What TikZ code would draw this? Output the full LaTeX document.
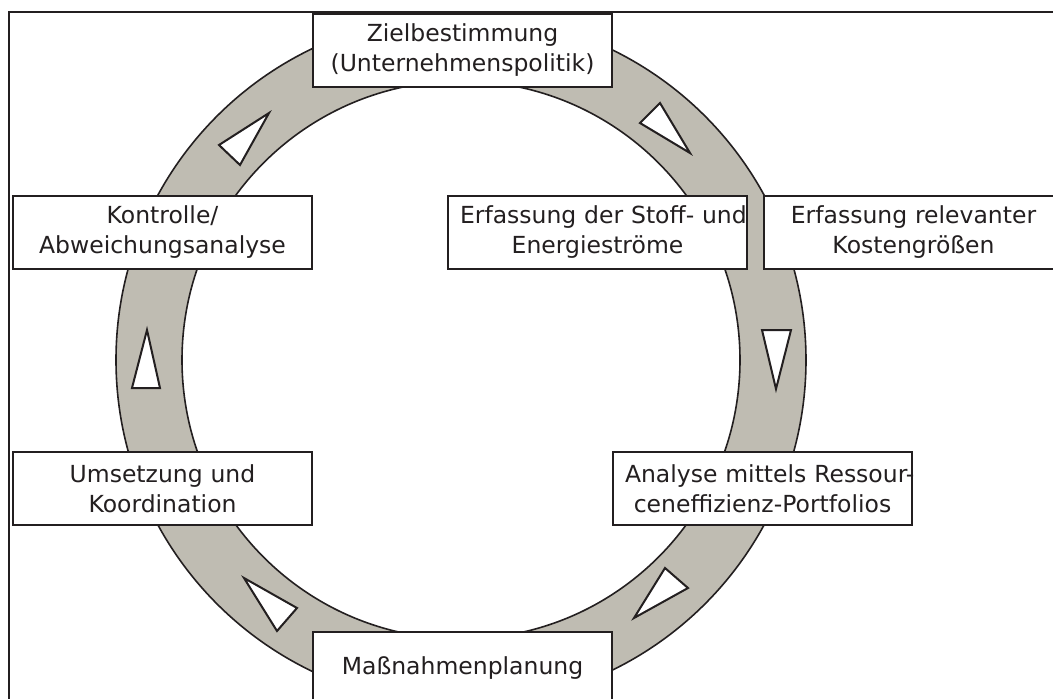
\documentclass[tikz,border=0pt]{standalone}
\usepackage{fontspec}
\setmainfont{DejaVu Sans}
\begin{document}
\definecolor{ink}{HTML}{231F20}
\definecolor{ringgray}{HTML}{BFBCB2}
\begin{tikzpicture}[x=1pt,y=-1pt,
  stagebox/.style={draw=ink, line width=2pt, fill=white, text=ink,
    anchor=north west, inner xsep=12pt, inner ysep=0pt,
    text width=275pt, minimum height=73pt, align=center,
    font=\fontsize{23.5}{30}\selectfont},
  flowtip/.style={draw=ink, line width=2pt, fill=white, line join=miter}]
\useasboundingbox (0,0) rectangle (1053,699);
\clip (0,0) rectangle (1053,699);

% outer frame (runs past the right and bottom edges)
\draw[ink, line width=2.5pt] (9,12) rectangle (1070,720);

% cycle ring
\coordinate (c) at (461,360);
\fill[ringgray, even odd rule] (c) circle[radius=345pt] (c) circle[radius=279pt];
\draw[ink, line width=1.6pt] (c) circle[radius=345pt];
\draw[ink, line width=1.6pt] (c) circle[radius=279pt];

% direction markers along the ring (clockwise)
\draw[flowtip] (660,103) -- (640,123) -- (690,153) -- cycle;
\draw[flowtip] (762,330) -- (791,330) -- (776,389) -- cycle;
\draw[flowtip] (665,568) -- (688,588) -- (634,618) -- cycle;
\draw[flowtip] (297,608) -- (277,631) -- (244,578) -- cycle;
\draw[flowtip] (132,388) -- (160,388) -- (147,330) -- cycle;
\draw[flowtip] (219,145) -- (240,165) -- (269,113) -- cycle;

% process stages
\node[stagebox] (ziel) at (312,13) {\mbox{Zielbestimmung}\\\mbox{(Unternehmenspolitik)}};
\node[stagebox] (stoff) at (447,195) {\mbox{Erfassung der Stoff- und}\\\mbox{Energieströme}};
\node[stagebox] (kosten) at (763,195) {\mbox{Erfassung relevanter}\\\mbox{Kostengrößen}};
\node[stagebox] (analyse) at (612,451) {\mbox{Analyse mittels Ressour-}\\\mbox{ceneffizienz-Portfolios}};
\node[stagebox] (massn) at (312,631) {\mbox{Maßnahmenplanung}};
\node[stagebox] (umsetz) at (12,451) {\mbox{Umsetzung und}\\\mbox{Koordination}};
\node[stagebox] (kontr) at (12,195) {\mbox{Kontrolle/}\\\mbox{Abweichungsanalyse}};
\end{tikzpicture}
\end{document}
